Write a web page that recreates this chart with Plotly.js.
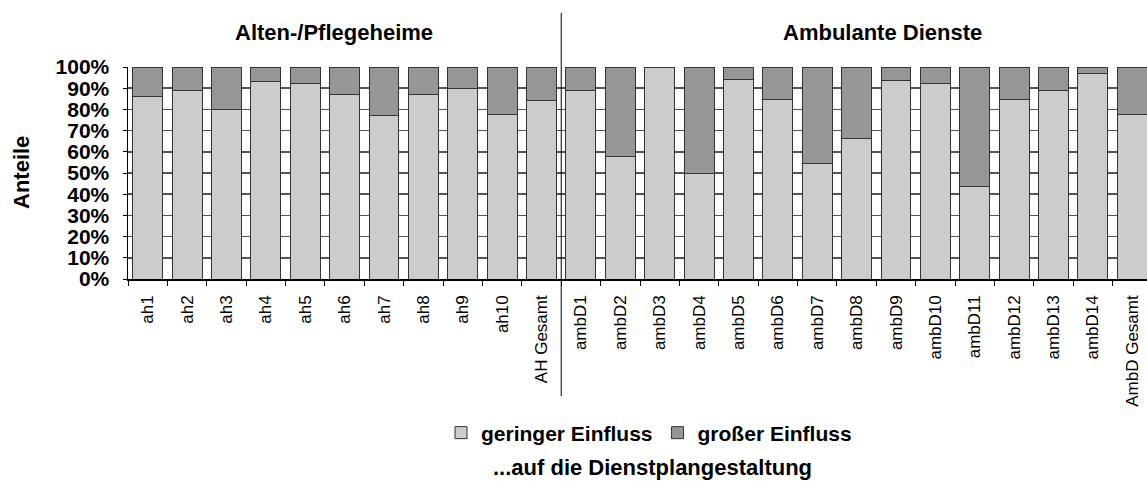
<!DOCTYPE html>
<html>
<head>
<meta charset="utf-8">
<script src="https://cdn.plot.ly/plotly-3.0.1.min.js"></script>
<style>
html,body{margin:0;padding:0;background:#fff;overflow:hidden;}
#chart{width:1160px;height:481px;}
</style>
</head>
<body>
<div id="chart"></div>
<script>
const categories = ['ah1','ah2','ah3','ah4','ah5','ah6','ah7','ah8','ah9','ah10','AH Gesamt',
  'ambD1','ambD2','ambD3','ambD4','ambD5','ambD6','ambD7','ambD8','ambD9','ambD10','ambD11','ambD12','ambD13','ambD14','AmbD Gesamt'];
const geringerEinfluss = [86, 89, 80, 93, 92, 87, 77, 87, 90, 77.5, 84,
  89, 58, 100, 50, 94, 84.5, 54.5, 66.5, 93.5, 92, 43.5, 84.5, 89, 97, 77.5];
const grosserEinfluss = [14, 11, 20, 7, 8, 13, 23, 13, 10, 22.5, 16,
  11, 42, 0, 50, 6, 15.5, 45.5, 33.5, 6.5, 8, 56.5, 15.5, 11, 3, 22.5];
const seriesNames = ['geringer Einfluss', 'großer Einfluss'];
const groupTitles = ['Alten-/Pflegeheime', 'Ambulante Dienste'];
const yTitle = 'Anteile';
const xSubtitle = '...auf die Dienstplangestaltung';

const FONT = 'Liberation Sans, Arial, sans-serif';
const barLine = {color: '#333333', width: 1};

const traces = [
  {type: 'bar', x: categories, y: geringerEinfluss, name: seriesNames[0],
   marker: {color: '#cccccc', line: barLine}, hoverinfo: 'skip'},
  {type: 'bar', x: categories, y: grosserEinfluss, name: seriesNames[1],
   marker: {color: '#969696', line: barLine}, hoverinfo: 'skip'}
];

const W = 1160, H = 481, L = 128, R = 8, T = 67, B = 202;
const pw = W - L - R, ph = H - T - B;
const px2x = p => (p - L) / pw;
const py2y = p => (H - B - p) / ph;

const layout = {
  width: W, height: H,
  margin: {l: L, r: R, t: T, b: B, pad: 0},
  paper_bgcolor: '#ffffff', plot_bgcolor: '#ffffff',
  font: {family: FONT, color: '#000000'},
  barmode: 'stack',
  bargap: 0.24,
  showlegend: true,
  legend: {orientation: 'h', x: px2x(649), y: py2y(433), xanchor: 'center', yanchor: 'middle',
    font: {family: FONT, size: 21, weight: 'bold', color: '#000'}, itemwidth: 30,
    traceorder: 'normal', bgcolor: 'rgba(0,0,0,0)'},
  xaxis: {
    type: 'category', tickangle: -90, tickson: 'boundaries', ticks: 'outside', ticklen: 5,
    tickcolor: '#000', tickwidth: 1, showgrid: false, showline: true, linecolor: '#000', linewidth: 1.5,
    tickfont: {family: FONT, size: 17, color: '#000'}, ticklabelstandoff: 8, fixedrange: true
  },
  yaxis: {
    range: [0, 100], dtick: 10, tick0: 0, ticksuffix: '%', ticks: 'outside', ticklen: 4,
    tickcolor: '#000', showline: true, linecolor: '#000', linewidth: 1.5,
    showgrid: true, gridcolor: '#555555', gridwidth: 1.5, zeroline: false,
    tickfont: {family: FONT, size: 21, weight: 'bold', color: '#000'}, ticklabelstandoff: 9, fixedrange: true
  },
  shapes: [
    {type: 'line', xref: 'x', yref: 'paper', x0: 10.5, x1: 10.5, y0: py2y(396), y1: py2y(13),
     line: {color: '#000', width: 1}}
  ],
  annotations: [
    {text: groupTitles[0], xref: 'paper', yref: 'paper', x: px2x(334), y: py2y(33),
     xanchor: 'center', yanchor: 'middle', showarrow: false,
     font: {family: FONT, size: 22, weight: 'bold', color: '#000'}},
    {text: groupTitles[1], xref: 'paper', yref: 'paper', x: px2x(882), y: py2y(33),
     xanchor: 'center', yanchor: 'middle', showarrow: false,
     font: {family: FONT, size: 22, weight: 'bold', color: '#000'}},
    {text: yTitle, xref: 'paper', yref: 'paper', x: px2x(21), y: py2y(173),
     xanchor: 'center', yanchor: 'middle', showarrow: false, textangle: -90,
     font: {family: FONT, size: 22, weight: 'bold', color: '#000'}},
    {text: xSubtitle, xref: 'paper', yref: 'paper', x: px2x(652), y: py2y(467),
     xanchor: 'center', yanchor: 'middle', showarrow: false,
     font: {family: FONT, size: 22, weight: 'bold', color: '#000'}}
  ]
};

Plotly.newPlot('chart', traces, layout, {staticPlot: true, displayModeBar: false});
</script>
</body>
</html>
